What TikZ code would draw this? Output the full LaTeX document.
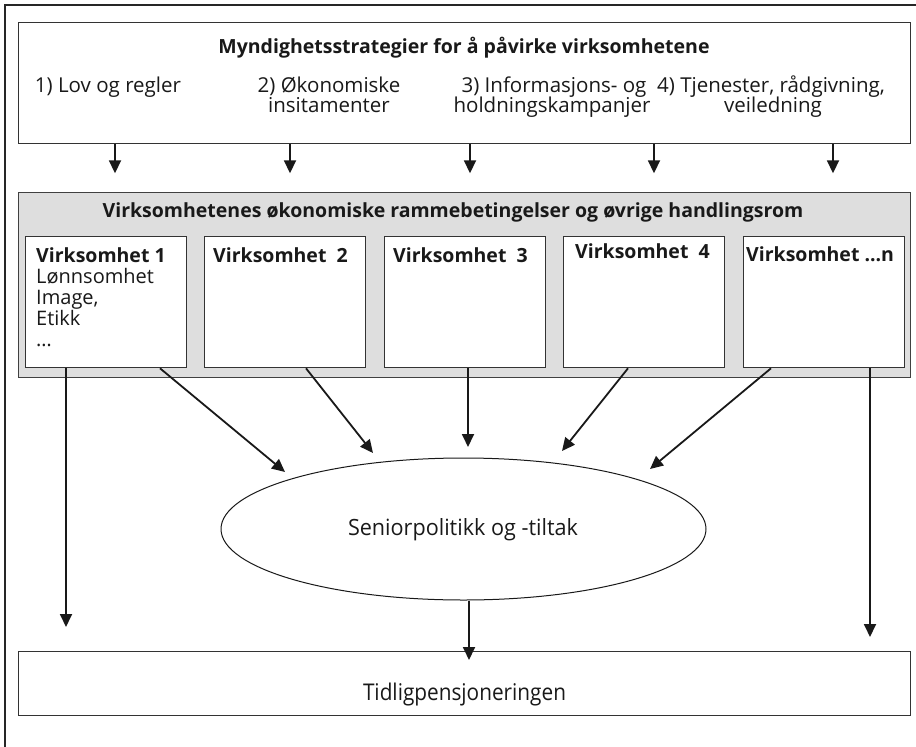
\documentclass[tikz,border=0pt]{standalone}
\usepackage{fontspec}
\setmainfont{Open Sans}
\usetikzlibrary{arrows.meta,shapes.geometric}
\begin{document}
\begin{tikzpicture}[x=1pt,y=-1pt,
  box/.style={draw=black!80, line width=1.3pt, fill=white, inner sep=0pt, anchor=north west},
  graybox/.style={draw=black!75, line width=1.3pt, fill=black!13, inner sep=0pt, anchor=north west},
  arr/.style={line width=1.8pt, draw=black!90, -{Triangle[length=13pt,width=12pt]}},
  txt/.style={inner sep=0pt, anchor=base, font=\fontsize{20.5}{24}\selectfont, text=black!90},
  btxt/.style={txt, font=\fontsize{19.5}{24}\selectfont\bfseries},
  vtxt/.style={txt, anchor=base west, font=\fontsize{20}{24}\selectfont},
  vbtxt/.style={btxt, anchor=base west},
  ctxt/.style={txt, font=\fontsize{20}{24}\selectfont}]
\useasboundingbox (0,0) rectangle (916,747);
\draw[line width=2.2pt, black!85] (5,747) -- (5,5) -- (916,5);

% top box
\node[box, minimum width=892pt, minimum height=121pt] (top) at (18,22) {};
\node[btxt] (title) at (464,53) {Myndighetsstrategier for å påvirke virksomhetene};
\node[txt] (s1) at (108,92) {1) Lov og regler};
\node[txt] (s2a) at (329,92) {2) Økonomiske};
\node[txt] (s2b) at (329,112) {insitamenter};
\node[txt] (s3a) at (554,92) {3) Informasjons- og};
\node[txt] (s3b) at (552,112) {holdningskampanjer};
\node[txt] (s4a) at (771,92) {4) Tjenester, rådgivning,};
\node[txt] (s4b) at (773,112) {veiledning};

% gray frame
\node[graybox, minimum width=892pt, minimum height=185pt] (frame) at (18,192) {};
\node[btxt] (ftitle) at (453,217) {Virksomhetenes økonomiske rammebetingelser og øvrige handlingsrom};

\foreach \x/\n in {25/1,204/2,384/3,563/4,743/5}
  \node[box, minimum width=161pt, minimum height=131pt] (b\n) at (\x,236) {};

\node[vbtxt] (v1) at (36,262) {Virksomhet 1};
\node[vtxt] (v1a) at (36,283) {Lønnsomhet};
\node[vtxt] (v1b) at (36,304) {Image,};
\node[vtxt] (v1c) at (36,325) {Etikk};
\node[vtxt] (v1d) at (36,346) {\dots};
\node[vbtxt] (v2) at (213,262) {Virksomhet\ \ 2};
\node[vbtxt] (v3) at (393,262) {Virksomhet\ \ 3};
\node[vbtxt] (v4) at (575,258) {Virksomhet\ \ 4};
\node[vbtxt] (v5) at (746,261) {Virksomhet ...n};

% arrows from top box
\foreach \x in {97,272,452,636,815}
  \draw[arr] ([xshift=\x pt]top.south west) -- ++(0,29);

% ellipse
\node[ellipse, draw=black!90, line width=1pt, minimum width=485pt, minimum height=142pt, inner sep=0pt] (sen) at (463.5,529) {};
\node[ctxt] (sent) at (463,535.5) {\resizebox{230pt}{17pt}{Seniorpolitikk og -tiltak}};

% bottom box
\node[box, minimum width=892pt, minimum height=64pt] (tid) at (18,651) {};
\node[ctxt] (tidt) at (464.5,700) {\resizebox{203pt}{17.5pt}{Tidligpensjoneringen}};

% tips
\coordinate (t1) at (285,472);
\coordinate (t2) at (373,453);
\coordinate (t4) at (562,451);
\coordinate (t5) at (650,469);
\coordinate (l1) at (66,627);
\coordinate (m3) at (468,447);
\coordinate (r5) at (870,637);

\draw[arr] ([xshift=41pt]b1.south west) -- (l1);
\draw[arr] ([xshift=135pt]b1.south west) -- (t1);
\draw[arr] ([xshift=102pt]b2.south west) -- (t2);
\draw[arr] ([xshift=84pt]b3.south west) -- (m3);
\draw[arr] ([xshift=65pt]b4.south west) -- (t4);
\draw[arr] ([xshift=28pt]b5.south west) -- (t5);
\draw[arr] ([xshift=127pt]b5.south west) -- (r5);
\draw[arr] (sen.south -| 469,0) -- ([xshift=451pt,yshift=-9pt]tid.north west);
\end{tikzpicture}
\end{document}
